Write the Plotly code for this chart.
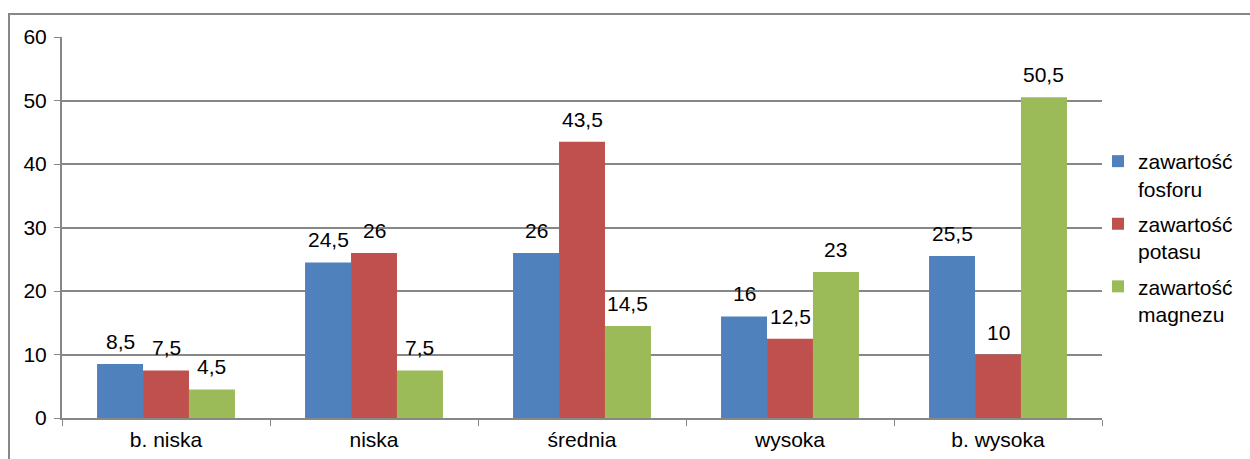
import plotly.graph_objects as go

categories = ["b. niska", "niska", "średnia", "wysoka", "b. wysoka"]
series_names = ["zawartość<br>fosforu", "zawartość<br>potasu", "zawartość<br>magnezu"]
fosfor = [8.5, 24.5, 26, 16, 25.5]
potas = [7.5, 26, 43.5, 12.5, 10]
magnez = [4.5, 7.5, 14.5, 23, 50.5]
colors = ["#4F81BD", "#C0504D", "#9BBB59"]
y_ticks = [0, 10, 20, 30, 40, 50, 60]

W, H = 1250, 459
L, R, T, B = 62, 148, 37, 41
FONT = "Liberation Sans, Arial, sans-serif"
FS = 21
GRID = "#878787"

fig = go.Figure()
all_series = [fosfor, potas, magnez]
for i, (name, vals) in enumerate(zip(series_names, all_series)):
    fig.add_trace(go.Bar(
        x=categories, y=vals, name=name,
        marker=dict(color=colors[i], line=dict(width=0)),
        legendgroup=f"g{i}",
    ))

bargap = 0.337
plot_w = W - L - R
bar_px = plot_w / len(categories) * (1 - bargap) / 3

def fmt(v):
    s = f"{v:g}"
    return s.replace(".", ",")

annotations = []
for i, vals in enumerate(all_series):
    for c, v in zip(categories, vals):
        annotations.append(dict(
            x=c, y=v, xref="x", yref="y", text=fmt(v), showarrow=False,
            xshift=(i - 1) * bar_px, yshift=9, yanchor="bottom",
            font=dict(family=FONT, size=FS, color="#000000"),
        ))

plot_h = H - T - B
def px2paper_x(px):
    return (px - L) / plot_w
def px2paper_y(py):
    return (H - B - py) / plot_h

shapes = [dict(
    type="rect", xref="paper", yref="paper",
    x0=px2paper_x(9), x1=px2paper_x(1270),
    y0=px2paper_y(480), y1=px2paper_y(14),
    line=dict(color=GRID, width=2), fillcolor="rgba(0,0,0,0)", layer="below",
)]

fig.update_layout(
    width=W, height=H,
    margin=dict(l=L, r=R, t=T, b=B, pad=0, autoexpand=False),
    paper_bgcolor="white", plot_bgcolor="white",
    barmode="group", bargap=bargap, bargroupgap=0,
    font=dict(family=FONT, size=FS, color="#000000"),
    showlegend=True,
    legend=dict(
        x=px2paper_x(1098), y=px2paper_y(141), xanchor="left", yanchor="top",
        traceorder="grouped", tracegroupgap=5, valign="top",
        font=dict(family=FONT, size=FS), itemwidth=30,
        bgcolor="rgba(0,0,0,0)",
    ),
    annotations=annotations,
    shapes=shapes,
    xaxis=dict(
        type="category", tickson="boundaries", ticks="outside", ticklen=6,
        tickcolor=GRID, showline=True, linecolor=GRID, linewidth=2,
        showgrid=False, tickfont=dict(family=FONT, size=FS),
        ticklabelstandoff=2, automargin=False,
    ),
    yaxis=dict(
        range=[0, 60], tickvals=y_ticks, ticks="outside", ticklen=6,
        tickcolor=GRID, showline=True, linecolor=GRID, linewidth=2,
        showgrid=True, gridcolor=GRID, gridwidth=1.5, zeroline=False,
        tickfont=dict(family=FONT, size=FS), ticklabelstandoff=3,
        automargin=False,
    ),
)

fig.write_html("out.html")
